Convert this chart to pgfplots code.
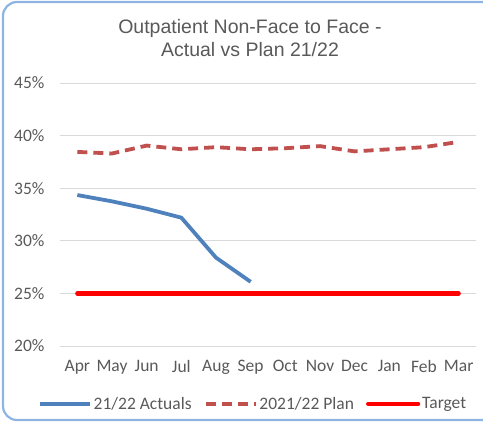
\documentclass[border=0pt]{standalone}
\usepackage{pgfplots}
\pgfplotsset{compat=1.18}
\usepackage{fontspec}
\setmainfont{Carlito}
\newfontfamily\titlefont{Liberation Sans}
\definecolor{frameblue}{HTML}{8DB4E2}
\definecolor{txtgray}{HTML}{595959}
\definecolor{gridgray}{HTML}{D9D9D9}
\definecolor{actblue}{HTML}{4F81BD}
\definecolor{planred}{HTML}{C0504D}
\begin{document}
\begin{tikzpicture}
\path[use as bounding box] (0pt,0pt) rectangle (483pt,424pt);
\draw[frameblue, line width=2.2pt, rounded corners=14pt] (3pt,4pt) rectangle (510pt,422pt);
\node[font=\titlefont\fontsize{19.5}{23}\selectfont, text=txtgray, align=center] at (250pt,386pt) {Outpatient Non-Face to Face -\\Actual vs Plan 21/22};
\begin{axis}[
  at={(60pt,78pt)}, anchor=south west,
  scale only axis, width=416pt, height=263pt,
  xmin=-0.5, xmax=11.5, ymin=20, ymax=45,
  xtick={0,...,11},
  xticklabels={Apr,May,Jun,Jul,Aug,Sep,Oct,Nov,Dec,Jan,Feb,Mar},
  ytick={20,25,30,35,40,45},
  yticklabel={\pgfmathprintnumber{\tick}\%},
  /pgf/number format/assume math mode=true,
  axis line style={draw=none},
  tick style={draw=none},
  ymajorgrids, grid style={gridgray, line width=1pt},
  ticklabel style={font=\fontsize{17.5}{20}\selectfont, text=txtgray},
  yticklabel style={xshift=-12pt},
  xticklabel style={yshift=-11pt},
  legend columns=3,
  legend style={at={(0.464,-0.22)}, anchor=center, draw=none, fill=none,
    font=\fontsize{17.5}{20}\selectfont, text=txtgray,
    /tikz/every even column/.append style={column sep=10pt}},
  legend image code/.code={\draw[#1] (0pt,0pt) -- (50pt,0pt);},
]
\addplot[actblue, line width=3.8pt, line join=round] coordinates {
(0,34.35) (1,33.75) (2,33.05) (3,32.2) (4,28.4) (5,26.1)};
\addlegendentry{21/22 Actuals}
\addplot[planred, line width=3.8pt, dash pattern=on 10pt off 6pt] coordinates {
(0,38.45) (1,38.3) (2,39.05) (3,38.7) (4,38.9) (5,38.7) (6,38.8) (7,39.0) (8,38.5) (9,38.7) (10,38.9) (11,39.4)};
\addlegendentry{2021/22 Plan}
\addplot[red, line width=4.2pt, line cap=round] coordinates {
(0,25) (1,25) (2,25) (3,25) (4,25) (5,25) (6,25) (7,25) (8,25) (9,25) (10,25) (11,25)};
\addlegendentry{Target}
\end{axis}
\end{tikzpicture}
\end{document}
